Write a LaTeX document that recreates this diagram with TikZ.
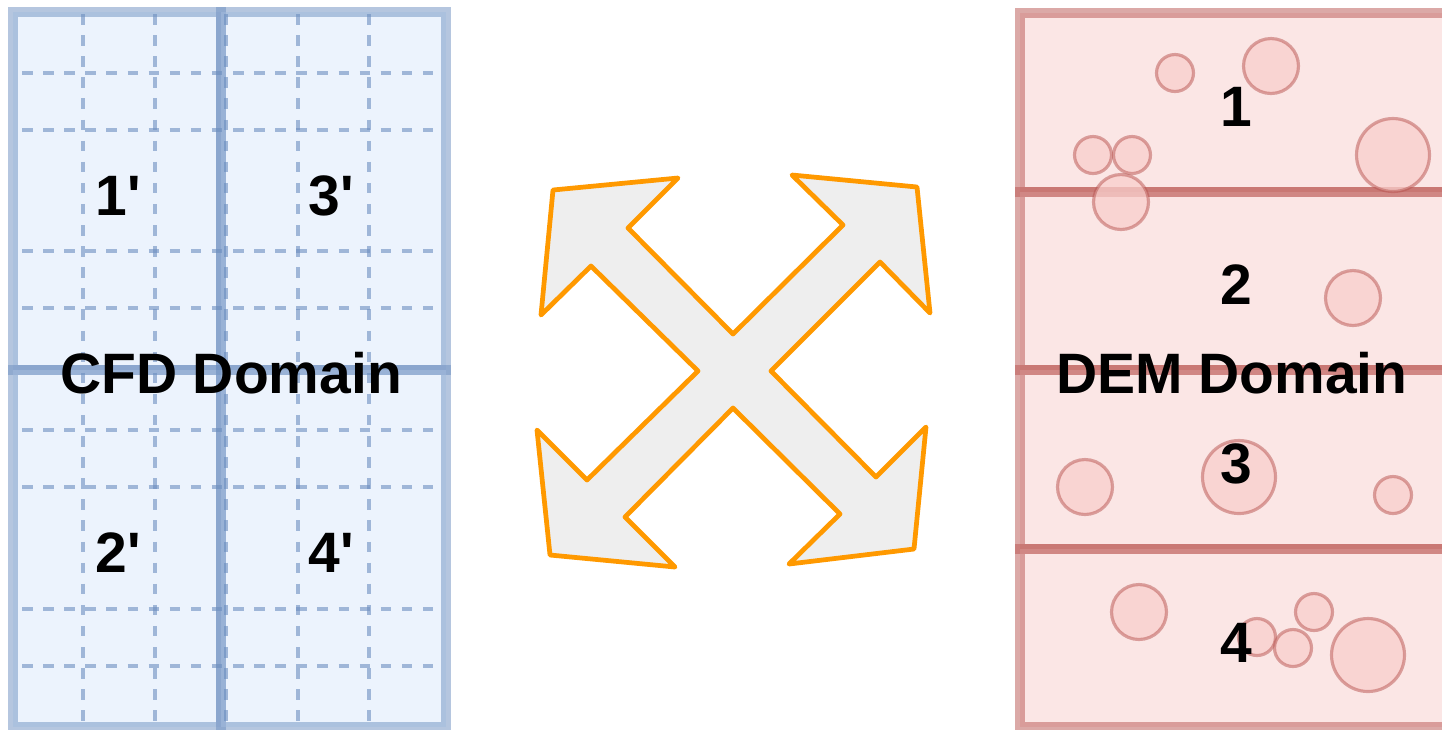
\documentclass[tikz,border=0pt]{standalone}
\usepackage{fontspec}
\setmainfont{Liberation Sans}
\newfontfamily\labelfont{Liberation Sans}
\definecolor{CfdFill}{HTML}{DAE8FC}
\definecolor{CfdLine}{HTML}{6C8EBF}
\definecolor{DemFill}{HTML}{F8CECC}
\definecolor{DemLine}{HTML}{B85450}
\definecolor{SwapOrange}{HTML}{FF9900}
\definecolor{SwapGrey}{HTML}{EEEEEE}
\usetikzlibrary{positioning}

\begin{document}
\begin{tikzpicture}[
    x=0.01cm, y=-0.01cm,
    cell/.style={draw=CfdLine, fill=CfdFill, line width=2.8pt, opacity=0.5},
    cfdgrid/.style={draw=CfdLine, line width=1.05pt, opacity=0.6, dash pattern=on 3pt off 3pt},
    slab/.style={draw=DemLine, fill=DemFill, line width=2.8pt, opacity=0.5},
    grain/.style={draw=DemLine, fill=DemFill, line width=0.9pt, draw opacity=0.5, fill opacity=0.75},
    swap/.style={draw=SwapOrange, fill=SwapGrey, line width=1.35pt, line join=round},
    lbl/.style={font=\labelfont\bfseries\fontsize{16.2}{19}\selectfont, anchor=base, inner sep=0pt}
  ]
    \useasboundingbox (0,0) rectangle (1442,729);

    % CFD side
    \draw[cell] (13,12) rectangle (221,370);
    \draw[cell] (221,12) rectangle (446,370);
    \draw[cell] (13,370) rectangle (221,727);
    \draw[cell] (221,370) rectangle (446,727);
    \foreach \gx in {83,155,226,298,369}
      \draw[cfdgrid] (\gx,14) -- (\gx,729);
    \foreach \gy in {73,130,251,308,430,487,609,666}
      \draw[cfdgrid] (22,\gy) -- (441,\gy);
    \node[lbl] (c1) at (118,215) {1'};
    \node[lbl] (c3) at (331,215) {3'};
    \node[lbl] (c2) at (118,572) {2'};
    \node[lbl] (c4) at (331,572) {4'};
    \node[lbl] (cfd) at (231,393) {CFD Domain};

    % exchange arrows
    \draw[swap] (553,190) -- (678,178) -- (628,228) -- (733,334) -- (843,225)
      -- (792,175) -- (917,187) -- (930,313) -- (880,262) -- (771,371)
      -- (876,477) -- (926,427) -- (914,549) -- (789,564) -- (840,514)
      -- (733,408) -- (625,517) -- (675,567) -- (550,555) -- (537,430)
      -- (587,480) -- (698,371) -- (591,266) -- (541,315) -- cycle;

    % DEM side
    \draw[slab] (1020,13) rectangle (1452,192);
    \draw[slab] (1020,192) rectangle (1452,370);
    \draw[slab] (1020,370) rectangle (1452,549);
    \draw[slab] (1020,549) rectangle (1452,727);
    \foreach \px/\py/\pr in {1175/73/18.5, 1271/66/27.5, 1093/155/18.5, 1132/155/18.5,
        1121/202/27.5, 1393/155/36.5, 1353/298/27.5, 1085/487/27.5, 1239/477/36.5,
        1393/495/18.5, 1139/612/27.5, 1257/637/18.5, 1293/648/18.5, 1314/612/18.5,
        1368/655/36.5}
      \draw[grain] (\px,\py) circle (\pr);
    \node[lbl] (d1) at (1236,126) {1};
    \node[lbl] (d2) at (1236,304) {2};
    \node[lbl] (d3) at (1236,483) {3};
    \node[lbl] (d4) at (1236,662) {4};
    \node[lbl] (dem) at (1232,393) {DEM Domain};
  \end{tikzpicture}
\end{document}
